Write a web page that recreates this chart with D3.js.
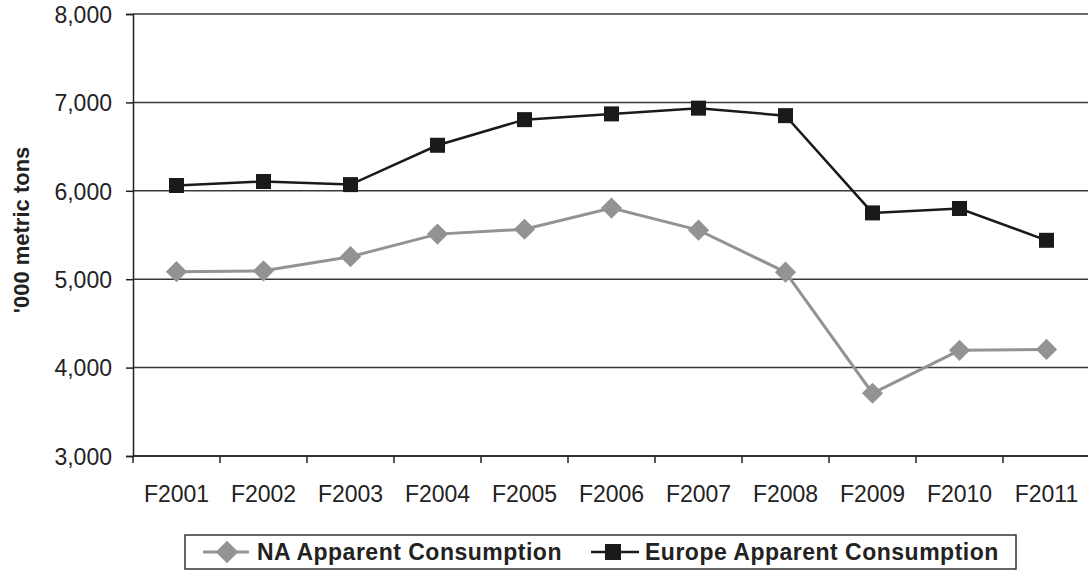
<!DOCTYPE html>
<html><head><meta charset="utf-8">
<script src="https://cdn.jsdelivr.net/npm/d3@7"></script>
<style>body{margin:0;background:#fff;} svg{display:block;font-family:"Liberation Sans",Arial,sans-serif;}</style>
</head><body>
<svg id="c" width="1088" height="572"></svg>
<script>
const categories = ["F2001","F2002","F2003","F2004","F2005","F2006","F2007","F2008","F2009","F2010","F2011"];
const naValues = [5085,5095,5255,5510,5565,5805,5555,5080,3710,4195,4205];
const europeValues = [6060,6105,6070,6515,6805,6870,6935,6850,5750,5800,5440];
const yTicks = [3000,4000,5000,6000,7000,8000];
const seriesNames = ["NA Apparent Consumption","Europe Apparent Consumption"];

const svg = d3.select("#c");
const L = 133, R = 1090, T = 14, B = 456;
const x = d3.scaleBand().domain(categories).range([L, R]);
const y = d3.scaleLinear().domain([3000, 8000]).range([B, T]);
const FONT = "Liberation Sans, Arial, sans-serif";

// gridlines
svg.append("g").selectAll("line").data(yTicks).join("line")
  .attr("x1", L).attr("x2", 1088).attr("y1", d => y(d)).attr("y2", d => y(d))
  .attr("stroke", "#3a3a3a").attr("stroke-width", 1.5);

// y axis
const yAx = svg.append("g").attr("transform", `translate(${L},0)`)
  .call(d3.axisLeft(y).tickValues(yTicks).tickFormat(d3.format(",")).tickSize(7).tickPadding(14));
yAx.select(".domain").attr("stroke", "#222").attr("stroke-width", 1.5);
yAx.selectAll(".tick line").attr("stroke", "#222").attr("stroke-width", 1.5);
yAx.attr("font-size", 23).attr("font-family", FONT);
yAx.selectAll("text").attr("fill", "#222").attr("dy", "0.36em");

// x axis (ticks at band boundaries)
const bounds = categories.map(c => x(c));
svg.append("line").attr("x1", L).attr("x2", 1088).attr("y1", B).attr("y2", B).attr("stroke", "#222").attr("stroke-width", 1.5);
svg.append("g").selectAll("line").data(bounds).join("line")
  .attr("x1", d => d).attr("x2", d => d).attr("y1", B).attr("y2", B + 7)
  .attr("stroke", "#222").attr("stroke-width", 1.5);
svg.append("g").selectAll("text").data(categories).join("text")
  .attr("x", d => x(d) + x.bandwidth() / 2).attr("y", 501.5)
  .attr("text-anchor", "middle").attr("font-size", 23).attr("fill", "#222")
  .text(d => d);

// y label
svg.append("text").attr("transform", "translate(29,230) rotate(-90)")
  .attr("text-anchor", "middle").attr("font-size", 22).attr("font-weight", "bold").attr("fill", "#222")
  .text("'000 metric tons");

const cx = d => x(d) + x.bandwidth() / 2;
const line = d3.line().x((d, i) => cx(categories[i])).y(d => y(d));

// NA series
svg.append("path").datum(naValues).attr("d", line).attr("fill", "none")
  .attr("stroke", "#939393").attr("stroke-width", 3);
svg.append("g").selectAll("rect").data(naValues).join("rect")
  .attr("x", -7.5).attr("y", -7.5).attr("width", 15).attr("height", 15)
  .attr("transform", (d, i) => `translate(${cx(categories[i])},${y(d)}) rotate(45)`)
  .attr("fill", "#939393");

// Europe series
svg.append("path").datum(europeValues).attr("d", line).attr("fill", "none")
  .attr("stroke", "#1a1a1a").attr("stroke-width", 2.5);
svg.append("g").selectAll("rect").data(europeValues).join("rect")
  .attr("x", (d, i) => cx(categories[i]) - 7.5).attr("y", d => y(d) - 7.5)
  .attr("width", 15).attr("height", 15).attr("fill", "#1a1a1a");

// legend
const lg = svg.append("g");
lg.append("rect").attr("x", 185).attr("y", 535).attr("width", 831).attr("height", 34)
  .attr("fill", "none").attr("stroke", "#333").attr("stroke-width", 1.5);
// NA item
lg.append("line").attr("x1", 203).attr("x2", 249).attr("y1", 552).attr("y2", 552).attr("stroke", "#939393").attr("stroke-width", 3);
lg.append("rect").attr("x", -8).attr("y", -8).attr("width", 16).attr("height", 16)
  .attr("transform", "translate(227,552) rotate(45)").attr("fill", "#939393");
lg.append("text").attr("x", 257).attr("y", 560).attr("font-size", 23).attr("font-weight", "bold")
  .attr("letter-spacing", 0.5).attr("fill", "#222").text(seriesNames[0]);
// Europe item
lg.append("line").attr("x1", 591).attr("x2", 639).attr("y1", 552).attr("y2", 552).attr("stroke", "#1a1a1a").attr("stroke-width", 2.5);
lg.append("rect").attr("x", 605).attr("y", 544).attr("width", 16).attr("height", 16).attr("fill", "#1a1a1a");
lg.append("text").attr("x", 645).attr("y", 560).attr("font-size", 23).attr("font-weight", "bold")
  .attr("letter-spacing", 0.5).attr("fill", "#222").text(seriesNames[1]);
</script>
</body></html>
